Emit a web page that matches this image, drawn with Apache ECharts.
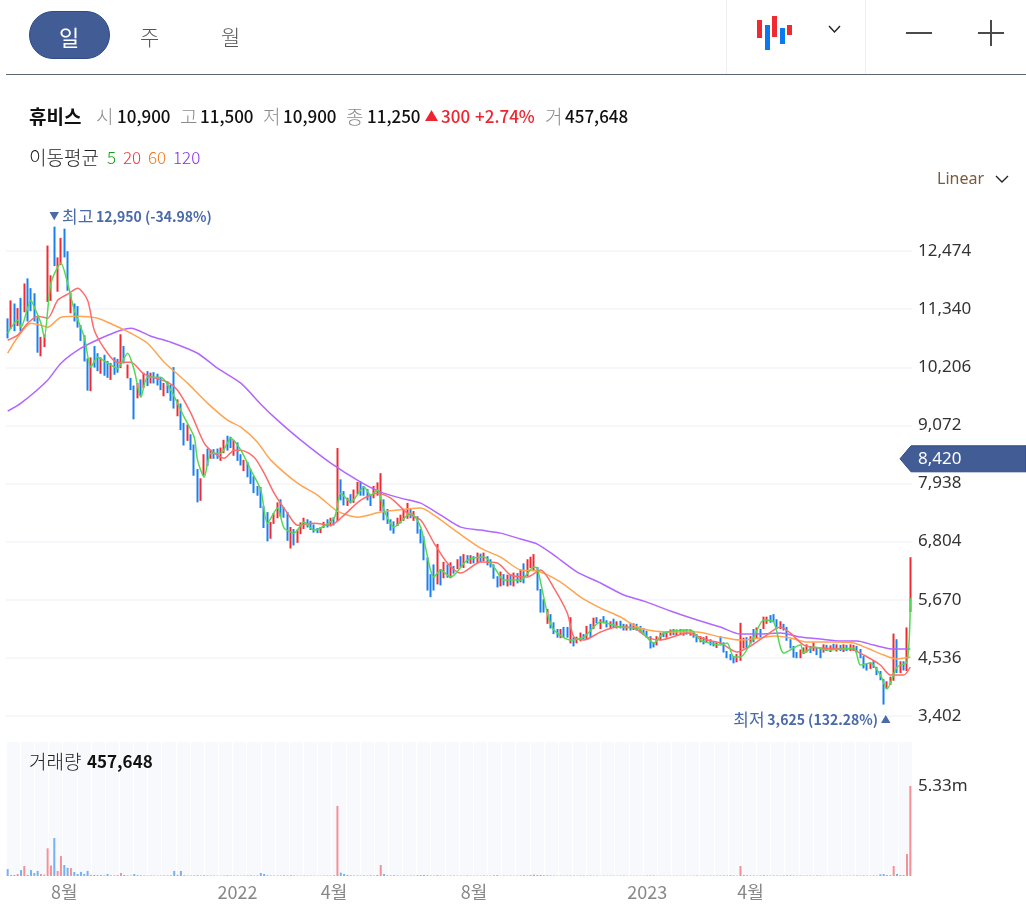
<!DOCTYPE html>
<html><head><meta charset="utf-8">
<script src="https://cdn.jsdelivr.net/npm/echarts@6/dist/echarts.min.js"></script>
<style>
html,body{margin:0;padding:0;background:#fff;width:1026px;height:918px;overflow:hidden;font-family:"Noto Sans CJK KR","Noto Sans",sans-serif}
#chart{position:absolute;left:0;top:0;width:1026px;height:918px}
.t{position:absolute;white-space:nowrap;line-height:1;transform:translateY(-50%)}
.k{position:absolute}
.lab{color:#8b8b8b;font-size:19px;font-weight:300}
.val{color:#111;font-size:17px;font-weight:500}
.up{color:#ee2530;font-size:17px;font-weight:500}
</style></head><body>
<div id="chart"></div>
<div class="k" style="left:29px;top:11px;width:81px;height:48px;border-radius:24px;background:#425c96;border:1px solid #2f4a85;box-sizing:border-box"></div>
<div class="t" style="left:59px;top:36px;color:#fff;font-size:22px">일</div>
<div class="t" style="left:140px;top:36px;color:#555;font-size:21px;font-weight:300">주</div>
<div class="t" style="left:221px;top:36px;color:#555;font-size:21px;font-weight:300">월</div>
<div class="k" style="left:6px;top:74px;width:1020px;height:1px;background:#5b6670"></div>
<div class="k" style="left:726px;top:0;width:1px;height:74px;background:#eef0f2"></div>
<div class="k" style="left:865px;top:0;width:1px;height:74px;background:#eef0f2"></div>
<svg class="k" style="left:740px;top:0" width="286" height="74">
<rect x="17" y="20" width="5" height="18" fill="#ee2b33"/><rect x="25" y="25" width="5" height="25" fill="#0a78f0"/><rect x="32" y="16" width="5" height="21" fill="#ee2b33"/><rect x="40" y="28" width="5" height="16" fill="#0a78f0"/><rect x="47" y="25" width="5" height="10" fill="#ee2b33"/>
<path d="M89 26l5.5 6 5.5-6" fill="none" stroke="#222" stroke-width="1.4"/>
<path d="M166 33h26M238 33h26M251 20v26" fill="none" stroke="#4a4a4a" stroke-width="2"/>
</svg>
<svg class="k" style="left:990px;top:170px" width="24" height="20"><path d="M6 6l6 6 6-6" fill="none" stroke="#222" stroke-width="1.4"/></svg>
<div class="t" style="left:29px;top:115px;font-size:19px;font-weight:700;color:#111">휴비스</div>
<div class="t lab" style="left:96px;top:115px">시</div><div class="t val" style="left:117px;top:115px">10,900</div>
<div class="t lab" style="left:180px;top:115px">고</div><div class="t val" style="left:200px;top:115px">11,500</div>
<div class="t lab" style="left:263px;top:115px">저</div><div class="t val" style="left:283px;top:115px">10,900</div>
<div class="t lab" style="left:346px;top:115px">종</div><div class="t val" style="left:367px;top:115px">11,250</div>
<svg class="k" style="left:425px;top:110px" width="14" height="12"><path d="M0 11L6.5 0L13 11Z" fill="#ee2530"/></svg>
<div class="t up" style="left:441px;top:115px">300</div><div class="t up" style="left:475px;top:115px">+2.74%</div>
<div class="t lab" style="left:545px;top:115px">거</div><div class="t val" style="left:565px;top:115px">457,648</div>
<div class="t" style="left:29px;top:156px;font-size:19px;font-weight:300;color:#222">이동평균</div>
<div class="t" style="left:107px;top:156px;font-size:17px;font-weight:300;color:#12a012">5</div>
<div class="t" style="left:123px;top:156px;font-size:17px;font-weight:300;color:#f0303a">20</div>
<div class="t" style="left:148px;top:156px;font-size:17px;font-weight:300;color:#f07a20">60</div>
<div class="t" style="left:173px;top:156px;font-size:17px;font-weight:300;color:#8a2be8">120</div>
<div class="t" style="left:937px;top:178px;font-family:'Noto Sans';font-size:16px;color:#7c5a3c">Linear</div>
<div class="t" style="left:29px;top:760px;font-size:19px;color:#222;font-weight:300">거래량</div>
<div class="t" style="left:87px;top:760px;font-size:17px;font-weight:700;color:#111">457,648</div>
<script>
const opens=[11120,10970,11410,11030,11510,11320,11610,11710,11610,11120,
10440,10640,11510,11550,12780,11710,12240,12900,12430,11280,
11410,11350,10990,10790,10340,9760,10600,10440,10110,10420,
10300,9990,10380,10340,10210,10580,10010,9990,9820,9620,
9950,9820,10110,9910,10090,10050,9990,9660,9910,9860,
9850,9270,9470,9080,8790,8880,8680,8200,7620,8100,
8590,8430,8590,8580,8400,8550,8840,8830,8500,8720,
8490,8200,8340,8200,8060,7870,7850,7480,7360,6880,
7170,7280,7610,7460,7360,6680,7030,6800,6970,7070,
7220,7190,7120,7060,6990,7080,7220,7110,7260,7220,
8000,7770,7520,7710,7580,7750,7960,7870,7810,7700,
7670,7720,7420,7610,7420,7220,7180,7120,7180,7230,
7270,7420,7230,7280,7030,6890,6480,6150,6340,5990,
6250,6110,6340,6110,6310,6290,6500,6310,6520,6380,
6500,6400,6540,6440,6500,6440,6340,6110,5950,6150,
5950,6150,5950,6170,6030,6350,6150,6310,6250,6290,
5860,5660,5220,5370,5210,5080,4940,5120,5120,4930,
4920,4840,4880,4980,4920,5180,5120,5310,5120,5330,
5250,5140,5270,5120,5240,5180,5080,5200,5100,5180,
5140,5100,5040,4940,4820,4800,4900,5020,4950,4980,
5080,4980,5080,4990,5080,4990,5040,4980,4850,4920,
4850,4880,4840,4750,4940,4820,4650,4590,4550,4470,
4500,4750,4920,4830,5080,4940,5080,5120,5220,5350,
5370,5270,5120,5180,5120,4880,4750,4630,4550,4630,
4650,4750,4690,4730,4690,4650,4770,4670,4790,4670,
4770,4670,4770,4690,4690,4750,4690,4550,4390,4340,
4460,4340,4260,4100,3950,4030,4100,4880,4260,4450,
4300,5460];
const highs=[11160,11510,11450,11360,11560,11840,11940,11750,11650,11180,
10800,10850,12580,12000,12950,12350,12730,12910,12470,11660,
11450,11400,11030,10830,10380,10400,10620,10480,10400,10450,
10330,10290,10400,10370,10850,10620,10260,10000,9850,9900,
9970,10100,10130,10100,10110,10080,10010,9900,9930,9870,
10210,9580,9500,9120,9090,8900,8700,8220,8040,8510,
8620,8600,8610,8620,8640,8790,8870,8850,8790,8740,
8510,8400,8360,8220,8080,7890,7870,7500,7380,7190,
7360,7570,7630,7480,7380,7090,7050,7040,7180,7270,
7240,7210,7140,7070,7090,7190,7240,7270,7280,8630,
8020,7790,7660,7730,7820,7970,7980,7890,7830,7720,
7890,7960,8140,7630,7440,7240,7200,7270,7330,7430,
7560,7440,7400,7300,7050,6910,6500,6170,6360,6760,
6270,6410,6360,6400,6330,6460,6520,6560,6540,6540,
6520,6590,6570,6590,6520,6460,6360,6130,6220,6170,
6160,6170,6200,6190,6260,6380,6460,6510,6560,6310,
5880,5680,5490,5390,5230,5100,5100,5140,5140,5330,
4940,4950,5030,5000,5160,5200,5320,5330,5290,5350,
5270,5250,5300,5250,5260,5200,5190,5220,5210,5200,
5160,5120,5060,4960,4840,4960,5030,5040,5060,5090,
5100,5090,5100,5090,5100,5090,5060,5000,4960,4940,
4960,4900,4860,4840,4960,4840,4670,4610,4570,4610,
5220,4930,4940,4960,5100,5130,5100,5340,5340,5370,
5390,5290,5250,5200,5140,4900,4770,4650,4700,4740,
4800,4770,4840,4750,4710,4800,4790,4780,4810,4800,
4790,4800,4790,4800,4790,4770,4710,4570,4420,4450,
4480,4360,4280,4120,4080,4170,5010,4900,4470,4470,
5130,6500];
const lows=[10770,10950,10910,11010,10910,11280,11100,11300,11100,10490,
10420,10600,11480,11500,12180,11680,12200,12350,11700,11260,
11100,10980,10720,10320,9750,9740,10200,10130,10080,10040,
10000,9960,10060,10100,10190,10280,9990,9760,9190,9600,
9650,9800,9840,9890,9890,9850,9760,9640,9700,9550,
9400,9250,8980,8680,8770,8590,8090,7570,7600,8090,
8280,8420,8420,8420,8380,8530,8580,8630,8480,8380,
8290,8180,8060,7930,7750,7700,7460,7070,6810,6860,
7150,7260,7290,7270,6820,6670,6730,6780,6950,7050,
7080,7030,6980,6970,6970,7070,7080,7100,7120,7200,
7610,7510,7500,7550,7560,7730,7700,7700,7610,7500,
7650,7700,7400,7220,7150,7020,6960,7110,7160,7210,
7250,7260,7210,6960,6770,6440,5850,5720,5850,5970,
5950,6090,6100,6090,6180,6270,6300,6290,6380,6370,
6380,6380,6400,6420,6340,6300,6080,5910,5930,5950,
5930,5950,5930,5990,6010,5990,6130,6290,6230,5850,
5420,5420,5200,5110,5000,4930,4920,4930,4930,4820,
4760,4820,4860,4900,4900,4930,5100,5210,5100,5210,
5130,5120,5130,5110,5110,5070,5070,5070,5080,5070,
5030,4990,4930,4720,4740,4780,4880,4940,4930,4970,
4980,4970,4980,4970,4990,4970,4930,4840,4840,4800,
4830,4780,4760,4730,4800,4640,4530,4490,4430,4450,
4480,4720,4730,4810,4840,4920,4930,5100,5200,5220,
5230,5130,5100,5070,4870,4720,4540,4530,4530,4610,
4640,4630,4670,4590,4530,4640,4670,4650,4700,4660,
4670,4650,4670,4670,4670,4640,4530,4330,4290,4320,
4340,4200,4100,3625,3930,4010,4090,4240,4240,4290,
4280,5430];
const closes=[10790,11510,10930,11320,10930,11710,11120,11320,11120,10500,
10790,10830,11900,11990,12200,12290,12710,12370,11710,11650,
11120,10990,10730,10340,9760,10400,10210,10150,10380,10050,
10010,10280,10090,10110,10850,10290,10250,9760,9200,9890,
9660,10090,9860,10090,9910,9860,9770,9900,9700,9560,
9410,9560,9000,8690,9080,8610,8100,7580,8040,8500,
8300,8590,8440,8430,8630,8780,8600,8650,8780,8400,
8300,8390,8070,7950,7770,7710,7480,7090,6820,7170,
7360,7560,7300,7280,6830,7090,6740,7030,7160,7260,
7090,7030,6990,6970,7080,7180,7090,7260,7130,8000,
7620,7520,7650,7560,7810,7960,7710,7710,7620,7520,
7870,7940,7810,7230,7160,7030,6970,7260,7320,7420,
7420,7260,7380,6970,6770,6450,5860,5730,5860,6340,
5960,6400,6110,6400,6190,6440,6310,6540,6390,6520,
6390,6580,6410,6580,6350,6310,6090,5920,6210,5960,
6150,5960,6190,6000,6250,6000,6440,6500,6540,5860,
5430,5430,5470,5120,5020,4940,5080,4940,4940,5000,
4770,4940,5020,4920,5140,4940,5310,5220,5270,5220,
5140,5240,5140,5240,5120,5080,5180,5080,5200,5080,
5040,5000,4940,4730,4750,4940,5000,4950,5040,5080,
4980,5080,4980,5080,4990,5080,4940,4850,4940,4810,
4940,4790,4770,4820,4810,4650,4540,4500,4440,4590,
4630,4920,4750,4940,4850,5120,4940,5330,5330,5220,
5240,5140,5240,5080,4880,4730,4550,4540,4690,4730,
4790,4640,4830,4590,4540,4790,4670,4770,4710,4790,
4670,4790,4670,4790,4770,4650,4540,4340,4300,4440,
4340,4200,4100,3660,4060,4150,4300,4260,4450,4300,
5120,5670];
const volumesK=[410,60,60,120,350,590,60,350,180,300,
120,80,1640,620,2250,300,1180,650,480,470,
240,120,240,120,300,70,60,50,60,30,
120,40,30,50,180,60,30,30,120,50,
40,30,25,30,25,20,25,30,25,40,
300,70,300,40,30,25,30,40,30,50,
25,30,25,20,20,30,40,25,30,25,
20,25,30,40,25,30,180,120,40,30,
25,30,25,40,30,50,30,25,20,30,
20,25,20,15,20,25,30,25,40,4150,
200,120,60,40,30,30,25,30,25,40,
30,60,650,120,40,30,40,30,25,30,
25,30,25,40,50,60,40,30,25,50,
30,25,20,30,25,20,25,20,30,25,
20,25,20,30,25,20,40,50,20,25,
20,25,20,25,30,40,30,60,80,50,
60,40,40,30,25,20,25,20,25,30,
25,20,30,25,25,30,20,25,15,20,
15,25,20,15,20,25,15,20,15,20,
15,20,25,30,25,20,20,15,15,20,
15,20,15,20,15,15,20,25,20,25,
20,25,25,30,25,30,30,40,25,25,
590,60,40,30,30,25,30,50,30,25,
30,25,25,30,40,40,30,25,30,25,
25,30,25,30,25,20,20,25,20,20,
25,20,20,20,25,30,25,30,25,30,
30,25,100,120,60,50,590,120,60,50,
1300,5330];
const ma120At=[0,4,12,16,22,28,34,37,43,49,57,63,70,76,81,88,97,106,112,118,124,130,136,142,148,154,159,164,171,178,185,191,199,207,214,220,226,232,238,244,250,255,260,266,271];
const ma120=[9350,9505,9954,10286,10578,10773,10929,10968,10812,10695,10480,10188,9896,9486,9174,8784,8336,7965,7770,7653,7556,7322,7088,7029,6970,6854,6756,6542,6210,5996,5762,5644,5450,5274,5138,5001,5001,5020,4942,4903,4864,4864,4786,4708,4708];
const ma60At=[0,3,7,10,12,16,21,27,32,37,42,47,54,60,66,70,75,79,87,93,99,105,112,120,124,128,135,142,148,154,159,166,172,178,184,189,194,201,207,214,220,224,230,235,240,248,254,258,263,267,271];
const ma60=[10480,10792,11065,11026,10987,11182,11202,11163,11026,10870,10675,10305,9896,9506,9174,9038,8745,8394,7945,7712,7400,7282,7380,7440,7458,7322,6990,6678,6502,6249,6230,6015,5722,5508,5333,5138,5060,5040,5040,4942,4884,4903,4962,4923,4845,4845,4826,4728,4592,4514,4552];
const ma20At=[0,3,6,9,12,15,18,21,24,26,30,33,37,41,48,51,55,59,62,65,68,70,74,77,80,84,87,92,97,101,106,111,115,120,124,128,132,136,142,147,151,156,160,164,168,170,173,178,183,188,192,196,204,210,214,219,223,227,232,235,239,244,253,257,262,265,269,271];
const ma20=[10734,10832,11065,11202,11163,11514,11631,11748,11514,10929,10480,10305,10305,10071,9915,9759,9310,8725,8530,8433,8589,8589,8452,8140,7750,7360,7126,7165,7126,7322,7614,7750,7653,7360,7224,6776,6386,6190,6405,6386,6152,6113,6249,5898,5410,4942,4884,5040,5138,5118,4942,4884,5020,4884,4826,4650,4767,4942,5138,5020,4786,4728,4708,4592,4397,4202,4202,4358];
const ma5At=[0,3,4,7,8,10,11,13,16,18,20,23,25,27,30,33,36,38,40,42,46,49,53,56,57,59,61,64,67,70,73,76,78,81,83,86,89,92,98,100,103,107,109,111,113,116,121,124,128,130,133,138,143,146,149,154,158,159,162,164,169,173,178,184,189,194,197,205,208,214,216,218,220,224,227,230,233,238,239,242,246,254,256,259,262,264,267,270,271];
const ma5=[10870,11124,10988,11514,11377,11065,10792,11846,12236,11846,11319,10792,10207,10402,10285,10188,10480,10149,9622,10012,10012,9759,9233,8842,8394,8062,8530,8530,8823,8589,8199,7809,7165,7458,7068,6970,7185,7029,7263,7750,7575,7868,7711,7809,7419,7087,7360,7087,6112,6249,6112,6444,6502,6307,6054,6054,6307,6288,5410,5079,4884,4942,5235,5138,5118,4826,5020,5079,4884,4787,4826,4553,4553,4942,5274,5235,4630,4787,4630,4748,4689,4728,4397,4436,4202,3929,4358,4455,5700];
const priceTicks={min:3402,max:13608,step:1134};
const volumeTick=5330000, volumeTop=7935000;
const tickLabels={17:'8월',69:'2022',98:'4월',140:'8월',192:'2023',223:'4월'};
const currentPrice=8420, periodHigh=12950, periodLow=3625;
const highIndex=14, lowIndex=263;
const categories=opens.map((_,i)=>'d'+i);
const stripeBands=new Array(64).fill('');
const fmt=v=>v.toLocaleString('en-US');
const UP='#ee2b33',DOWN='#1a80ee';
const zip=(a,b)=>a.map((x,i)=>[x,b[i]]);
const maSeries=(name,at,vals,color)=>({name,type:'line',xAxisIndex:0,yAxisIndex:0,data:zip(at,vals),smooth:0.25,symbol:'none',silent:true,z:5,lineStyle:{color,width:1.5}});
const chart=echarts.init(document.getElementById('chart'));
const blue='#4a6aa8';
chart.setOption({
 animation:false,
 textStyle:{fontFamily:'"Noto Sans CJK KR","Noto Sans",sans-serif'},
 grid:[
  {left:6,right:114,top:192.9,height:523.1,show:false},
  {left:6,right:114,top:742,height:134,show:true,backgroundColor:'#f8f9fc',borderWidth:0}
 ],
 xAxis:[
  {type:'category',gridIndex:0,data:categories,axisLine:{show:false},axisTick:{show:false},axisLabel:{show:false},splitLine:{show:false}},
  {type:'category',gridIndex:1,data:categories,axisLine:{show:false},axisTick:{show:false},splitLine:{show:false},
   axisLabel:{color:'#888',fontSize:18,margin:7,fontFamily:'"Noto Sans CJK KR","Noto Sans",sans-serif',
    interval:i=>tickLabels[i]!==undefined,formatter:(v,i)=>tickLabels[i]||''}},
  {type:'category',gridIndex:1,data:stripeBands,position:'top',axisLine:{show:false},axisTick:{show:false},axisLabel:{show:false},
   splitLine:{show:true,interval:0,lineStyle:{color:'#ffffff',width:1}}}
 ],
 yAxis:[
  {type:'value',gridIndex:0,position:'right',scale:true,min:priceTicks.min,max:priceTicks.max,interval:priceTicks.step,
   axisLine:{show:false},axisTick:{show:false},
   axisLabel:{color:'#333',fontSize:17,margin:6,padding:[2,0,0,0],fontFamily:'"Noto Sans"',showMaxLabel:false,formatter:v=>fmt(v)},
   splitLine:{show:true,showMaxLine:false,lineStyle:{color:'#f2f4f8',width:1.5}}},
  {type:'value',gridIndex:1,position:'right',min:0,max:volumeTop,interval:volumeTick,
   axisLine:{show:false},axisTick:{show:false},splitLine:{show:false},
   axisLabel:{color:'#333',fontSize:17,margin:6,padding:[2,0,0,0],fontFamily:'"Noto Sans"',formatter:v=>v===volumeTick?'5.33m':''}}
 ],
 series:[
  {name:'candles',type:'candlestick',xAxisIndex:0,yAxisIndex:0,barWidth:1,silent:true,z:3,
   data:opens.map((o,i)=>[o,closes[i],lows[i],highs[i]]),
   itemStyle:{color:UP,color0:DOWN,borderColor:UP,borderColor0:DOWN,borderWidth:2},
   markPoint:{silent:true,symbol:'circle',symbolSize:0,animation:false,data:[
    {coord:[highIndex,periodHigh],label:{show:true,position:'inside',align:'left',verticalAlign:'middle',offset:[-5,-10],
      formatter:'{a|▼} {b|최고} {c|12,950 (-34.98%)}',rich:{a:{fontSize:10,color:blue},b:{fontSize:17,color:blue},c:{fontSize:14,fontWeight:'bold',color:blue}}}},
    {coord:[lowIndex,periodLow],label:{show:true,position:'inside',align:'right',verticalAlign:'middle',offset:[7,15],
      formatter:'{b|최저} {c|3,625 (132.28%)} {a|▲}',rich:{a:{fontSize:10,color:blue},b:{fontSize:17,color:blue},c:{fontSize:14,fontWeight:'bold',color:blue}}}}
   ]}},
  maSeries('MA120',ma120At,ma120,'#b066ff'),
  maSeries('MA60',ma60At,ma60,'#ffa552'),
  maSeries('MA20',ma20At,ma20,'#ff6b6b'),
  maSeries('MA5',ma5At,ma5,'#55d855'),
  {name:'volume',type:'bar',xAxisIndex:1,yAxisIndex:1,barWidth:2,silent:true,z:3,
   data:volumesK.map((v,i)=>({value:v*1000,itemStyle:{color:closes[i]>=opens[i]?'rgba(240,60,70,0.55)':'rgba(30,130,240,0.6)'}}))}
 ]
});
const tagY=chart.convertToPixel({yAxisIndex:0},currentPrice);
chart.setOption({graphic:[
 {type:'polygon',z:20,shape:{points:[[900,tagY],[911,tagY-13],[1026,tagY-13],[1026,tagY+13],[911,tagY+13]]},style:{fill:'#425c96',stroke:'#2f4a85',lineWidth:1}},
 {type:'text',z:21,x:918,y:tagY,style:{text:fmt(currentPrice),fill:'#fff',font:'17px "Noto Sans"',textVerticalAlign:'middle'}}
]});
</script></body></html>
